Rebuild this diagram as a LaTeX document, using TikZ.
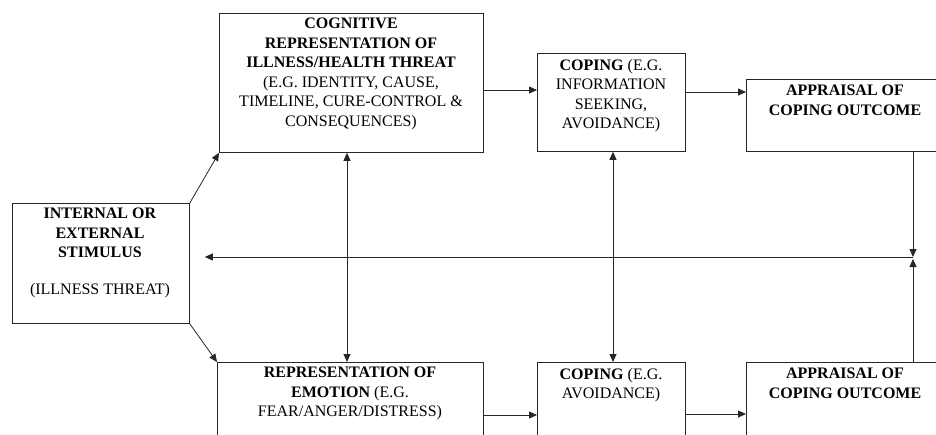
\documentclass[tikz,border=0pt]{standalone}
\usepackage{fontspec}
\setmainfont{Liberation Serif}
\usetikzlibrary{arrows.meta,calc}
\begin{document}
\begin{tikzpicture}[x=1pt,y=-1pt,
  box/.style={draw=black!85,line width=0.8pt,rectangle,inner sep=0pt,anchor=north west},
  txt/.style={align=center,anchor=north,inner sep=0pt,font=\fontsize{16}{19.5}\selectfont,text=black},
  arr/.style={line width=0.8pt,draw=black!85,-{Triangle[length=8pt,width=7pt]}},
  darr/.style={line width=0.8pt,draw=black!85,{Triangle[length=8pt,width=7pt]}-{Triangle[length=8pt,width=7pt]}}]
\useasboundingbox (0,0) rectangle (936,434);
\clip (0,0) rectangle (936,434);
% boxes
\node[box,minimum width=177pt,minimum height=120pt] (stim) at (12,203) {};
\node[box,minimum width=264pt,minimum height=139pt] (cog) at (219,13) {};
\node[box,minimum width=148pt,minimum height=98pt] (cop1) at (537,53) {};
\node[box,minimum width=200pt,minimum height=72pt] (app1) at (746,79) {};
\node[box,minimum width=266pt,minimum height=110pt] (emo) at (217,362) {};
\node[box,minimum width=148pt,minimum height=110pt] (cop2) at (537,362) {};
\node[box,minimum width=200pt,minimum height=110pt] (app2) at (746,362) {};
% texts
\node[txt] (tstim) at (100,208) {\textbf{INTERNAL OR}\\\textbf{EXTERNAL}\\\textbf{STIMULUS}};
\node[txt] (tstim2) at (100,283) {(ILLNESS THREAT)};
\node[txt] (tcog) at (351,18) {\textbf{COGNITIVE}\\\textbf{REPRESENTATION OF}\\\textbf{ILLNESS/HEALTH THREAT}\\(E.G. IDENTITY, CAUSE,\\TIMELINE, CURE-CONTROL \&\\CONSEQUENCES)};
\node[txt] (tcop1) at (611,59) {\textbf{COPING} (E.G.\\INFORMATION\\SEEKING,\\AVOIDANCE)};
\node[txt] (tapp1) at (845,85) {\textbf{APPRAISAL OF}\\\textbf{COPING OUTCOME}};
\node[txt] (temo) at (350,367) {\textbf{REPRESENTATION OF}\\\textbf{EMOTION} (E.G.\\FEAR/ANGER/DISTRESS)};
\node[txt] (tcop2) at (611,368) {\textbf{COPING} (E.G.\\AVOIDANCE)};
\node[txt] (tapp2) at (845,368) {\textbf{APPRAISAL OF}\\\textbf{COPING OUTCOME}};
% connectors
\coordinate (J) at (913,257);
\draw[arr] (stim.north east) -- (cog.south west);
\draw[arr] (stim.south east) -- (emo.north west);
\draw[arr] (cog.east |- 0,90) -- (cop1.west |- 0,90);
\draw[arr] (cop1.east |- 0,92) -- (app1.west |- 0,92);
\draw[arr] (emo.east |- 0,415) -- (cop2.west |- 0,415);
\draw[arr] (cop2.east |- 0,414) -- (app2.west |- 0,414);
\draw[darr] (cog.south -| 347,0) -- (emo.north -| 347,0);
\draw[darr] (cop1.south -| 613,0) -- (cop2.north -| 613,0);
\draw[arr] (app1.south -| J) -- (J);
\draw[arr] (app2.north -| J) -- ($(J)+(0,2)$);
\draw[arr,shorten >=15pt] (J) -- (J -| stim.east);
\end{tikzpicture}
\end{document}
